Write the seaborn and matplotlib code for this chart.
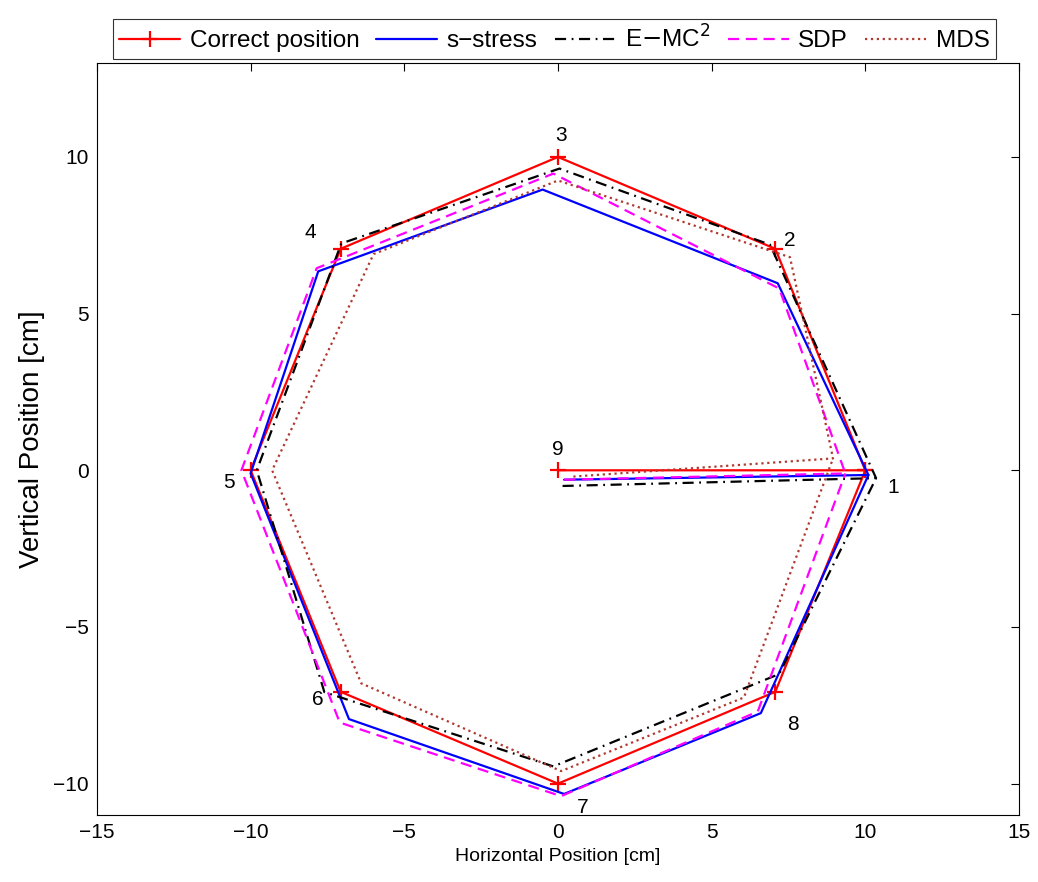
import matplotlib
matplotlib.use("Agg")
import matplotlib.pyplot as plt
import seaborn as sns
import pandas as pd

sns.set_style("white")
plt.rcParams['font.family'] = ['Liberation Sans', 'DejaVu Sans']
plt.rcParams['text.color'] = 'black'
plt.rcParams['axes.labelcolor'] = 'black'

# path order: 9, 1, 2, 3, 4, 5, 6, 7, 8, 1
correct_x = [0, 10, 7.07, 0, -7.07, -10, -7.07, 0, 7.07, 10]
correct_y = [0, 0, 7.07, 10, 7.07, 0, -7.07, -10, -7.07, 0]

sstress_x = [0.2, 10.1, 7.15, -0.5, -7.8, -10.0, -6.8, 0.2, 6.6, 10.1]
sstress_y = [-0.3, -0.15, 5.97, 8.96, 6.35, -0.1, -7.94, -10.33, -7.75, -0.15]

emc2_x = [0.15, 10.35, 6.9, 0.05, -7.05, -9.8, -7.6, -0.15, 7.2, 10.35]
emc2_y = [-0.5, -0.25, 7.2, 9.63, 7.24, 0.0, -7.08, -9.45, -6.5, -0.25]

sdp_x = [0.2, 9.35, 7.2, -0.15, -7.85, -10.3, -7.1, 0.1, 6.5, 9.35]
sdp_y = [-0.3, -0.1, 5.8, 9.47, 6.45, 0.0, -8.05, -10.4, -7.7, -0.1]

mds_x = [0.5, 8.95, 7.55, 0.0, -6.0, -9.3, -6.4, 0.1, 6.05, 8.95]
mds_y = [-0.2, 0.38, 6.8, 9.25, 6.9, 0.0, -6.8, -9.6, -7.25, 0.38]

point_labels = ['1', '2', '3', '4', '5', '6', '7', '8', '9']
label_x = [10.9, 7.55, 0.1, -8.05, -10.7, -7.8, 0.8, 7.65, 0.0]
label_y = [-0.55, 7.35, 10.7, 7.6, -0.4, -7.3, -10.75, -8.1, 0.65]

series = [
    ('Correct position', correct_x, correct_y, 'red', '-', '+'),
    ('s\u2212stress', sstress_x, sstress_y, 'blue', '-', None),
    ('E$-$MC$^2$', emc2_x, emc2_y, 'black', (0, (5, 2.5, 0.8, 2.5)), None),
    ('SDP', sdp_x, sdp_y, 'magenta', (0, (5, 3)), None),
    ('MDS', mds_x, mds_y, '#b03a30', ':', None),
]

fig = plt.figure(figsize=(10.38, 8.82), dpi=100)
ax = fig.add_axes([0.0934, 0.0760, 0.8883, 0.8526])

for name, xs, ys, color, ls, marker in series:
    df = pd.DataFrame({'x': xs, 'y': ys})
    sns.lineplot(data=df, x='x', y='y', sort=False, estimator=None, ax=ax,
                 color=color, linestyle=ls, linewidth=1.6, label=name,
                 marker=marker, markersize=11, markeredgewidth=1.6,
                 markeredgecolor=color)

for t, lx, ly in zip(point_labels, label_x, label_y):
    ax.text(lx, ly, t, ha='center', va='center', fontsize=15, color='black')

ax.set_xlim(-15, 15)
ax.set_ylim(-11, 13)
ax.set_xticks([-15, -10, -5, 0, 5, 10, 15])
ax.set_yticks([-10, -5, 0, 5, 10])
ax.set_xticklabels(['\u221215', '\u221210', '\u22125', '0', '5', '10', '15'])
ax.set_yticklabels(['\u221210', '\u22125', '0', '5', '10'])
ax.tick_params(direction='in', top=True, right=True, length=6, width=0.8,
               labelsize=15, colors='black', pad=6)
for s in ax.spines.values():
    s.set_color('black')
    s.set_linewidth(0.8)

ax.set_xlabel('Horizontal Position [cm]', fontsize=14, labelpad=4)
ax.set_ylabel('Vertical Position [cm]', fontsize=20, labelpad=6)

handles, labels = ax.get_legend_handles_labels()
ax.get_legend().remove()
leg = fig.legend(handles, labels, loc='upper center', bbox_to_anchor=(0.534, 0.992),
                 ncol=5, fontsize=17.5, frameon=True, fancybox=False,
                 edgecolor='black', handlelength=2.5, columnspacing=0.7,
                 handletextpad=0.4, borderpad=0.25)
leg.get_frame().set_linewidth(0.8)

fig.savefig('out.png', dpi=100)
